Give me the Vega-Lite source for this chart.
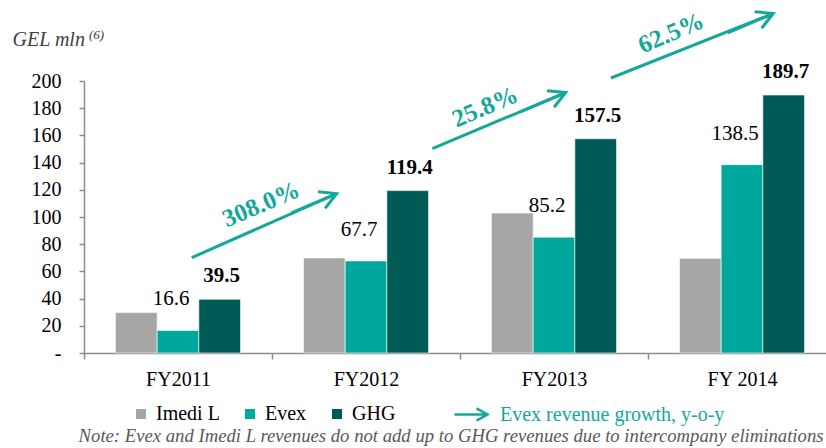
{
  "$schema": "https://vega.github.io/schema/vega-lite/v6.json",
  "width": 742,
  "height": 272,
  "autosize": {"type": "none"},
  "padding": {"left": 84, "top": 81, "right": 0, "bottom": 95},
  "background": "white",
  "title": {
    "text": "(6)",
    "anchor": "start",
    "frame": "group",
    "orient": "top",
    "offset": 0,
    "dx": 5,
    "dy": 46,
    "baseline": "alphabetic",
    "font": "Liberation Serif",
    "fontSize": 13,
    "fontStyle": "italic",
    "fontWeight": "normal",
    "color": "#404040"
  },
  "config": {
    "font": "Liberation Serif",
    "view": {"stroke": null},
    "legend": {"padding": 0},
    "axisY": {
      "labelOverlap": false,
      "labelBound": false,
      "grid": false,
      "tickSize": 5,
      "tickColor": "#8c8c8c",
      "tickWidth": 1.5,
      "domainColor": "#8c8c8c",
      "domainWidth": 1.5,
      "labelPadding": 18,
      "labelFont": "Liberation Serif",
      "labelFontSize": 20,
      "labelColor": "#000000",
      "titleAngle": 0,
      "titleAlign": "left",
      "titleBaseline": "alphabetic",
      "titleX": -72,
      "titleY": -36,
      "titleFont": "Liberation Serif",
      "titleFontStyle": "italic",
      "titleFontWeight": "normal",
      "titleFontSize": 20,
      "titleColor": "#404040"
    }
  },
  "datasets": {
    "bars": [
      {"year": "FY2011", "series": "Imedi L", "value": 29.7},
      {"year": "FY2011", "series": "Evex", "value": 16.6},
      {"year": "FY2011", "series": "GHG", "value": 39.5},
      {"year": "FY2012", "series": "Imedi L", "value": 69.9},
      {"year": "FY2012", "series": "Evex", "value": 67.7},
      {"year": "FY2012", "series": "GHG", "value": 119.4},
      {"year": "FY2013", "series": "Imedi L", "value": 102.9},
      {"year": "FY2013", "series": "Evex", "value": 85.2},
      {"year": "FY2013", "series": "GHG", "value": 157.5},
      {"year": "FY 2014", "series": "Imedi L", "value": 69.6},
      {"year": "FY 2014", "series": "Evex", "value": 138.5},
      {"year": "FY 2014", "series": "GHG", "value": 189.7}
    ],
    "arrows": [
      {"series": "Evex revenue growth, y-o-y", "label": "308.0%", "x0": 0.573, "y0": 70.1, "x1": 1.344, "y1": 117.2, "lx": 0.941, "ly": 109.3},
      {"series": "Evex revenue growth, y-o-y", "label": "25.8%", "x0": 1.853, "y0": 150.3, "x1": 2.562, "y1": 191.5, "lx": 2.133, "ly": 181.0},
      {"series": "Evex revenue growth, y-o-y", "label": "62.5%", "x0": 2.803, "y0": 202.2, "x1": 3.666, "y1": 249.6, "lx": 3.122, "ly": 235.4}
    ]
  },
  "layer": [
    {
      "data": {"name": "bars"},
      "encoding": {
        "x": {
          "field": "year",
          "type": "nominal",
          "sort": null,
          "scale": {"range": [0, 752], "paddingInner": 0, "paddingOuter": 0},
          "axis": {
            "title": "Note: Evex and Imedi L revenues do not add up to GHG revenues due to intercompany eliminations",
            "titleX": 739,
            "titleY": 88,
            "titleAlign": "right",
            "titleBaseline": "alphabetic",
            "titleFont": "Liberation Serif",
            "titleFontStyle": "italic",
            "titleFontWeight": "normal",
            "titleFontSize": 18.7,
            "titleColor": "#595959",
            "labelAngle": 0,
            "labelFont": "Liberation Serif",
            "labelFontSize": 20,
            "labelColor": "#000000",
            "labelPadding": 10,
            "tickBand": "extent",
            "tickSize": 6,
            "tickColor": "#8c8c8c",
            "tickWidth": 1.5,
            "domainColor": "#8c8c8c",
            "domainWidth": 1.5,
            "grid": false
          }
        },
        "xOffset": {
          "field": "series",
          "type": "nominal",
          "scale": {"domain": ["Imedi L", "Evex", "GHG"], "paddingInner": 0, "paddingOuter": 0.755}
        },
        "y": {
          "field": "value",
          "type": "quantitative",
          "scale": {"domain": [0, 200], "nice": false},
          "axis": {
            "title": "GEL mln",
            "values": [0, 20, 40, 60, 80, 100, 120, 140, 160, 180, 200],
            "labelExpr": "datum.value === 0 ? '-' : datum.label"
          }
        }
      },
      "layer": [
        {
          "mark": {"type": "bar", "stroke": "#ffffff", "strokeWidth": 0.6},
          "encoding": {
            "color": {
              "field": "series",
              "type": "nominal",
              "scale": {"domain": ["Imedi L", "Evex", "GHG"], "range": ["#a6a6a6", "#00a79d", "#005a55"]},
              "legend": {
                "orient": "none",
                "direction": "horizontal",
                "legendX": 47,
                "legendY": 323,
                "title": null,
                "symbolType": "square",
                "symbolSize": 100,
                "symbolStrokeWidth": 0,
                "labelFont": "Liberation Serif",
                "labelFontSize": 20,
                "labelColor": "#000000",
                "labelOffset": 5,
                "columnPadding": 20
              }
            }
          }
        },
        {
          "transform": [{"filter": "datum.series === 'Evex'"}],
          "mark": {"type": "text", "dx": -7, "dy": -25, "baseline": "alphabetic", "font": "Liberation Serif", "fontSize": 21, "color": "#000000"},
          "encoding": {"text": {"field": "value", "type": "quantitative", "format": ".1f"}}
        },
        {
          "transform": [{"filter": "datum.series === 'GHG'"}],
          "mark": {"type": "text", "dx": 2, "dy": -17, "baseline": "alphabetic", "font": "Liberation Serif", "fontSize": 21, "fontWeight": "bold", "color": "#000000"},
          "encoding": {"text": {"field": "value", "type": "quantitative", "format": ".1f"}}
        }
      ]
    },
    {
      "data": {"name": "arrows"},
      "layer": [
        {
          "mark": {"type": "rule", "color": "#14a89a", "strokeWidth": 3},
          "encoding": {
            "x": {"field": "x0", "type": "quantitative", "scale": {"domain": [0, 4], "range": [0, 752], "nice": false, "zero": false}, "axis": null},
            "x2": {"field": "x1"},
            "y": {"field": "y0", "type": "quantitative", "axis": {"title": "GEL mln", "values": [0, 20, 40, 60, 80, 100, 120, 140, 160, 180, 200], "labelExpr": "datum.value === 0 ? '-' : datum.label"}},
            "y2": {"field": "y1"}
          }
        },
        {
          "mark": {"type": "point", "filled": false, "color": "#14a89a", "strokeWidth": 3, "angle": -23, "size": 1076, "opacity": 1},
          "encoding": {
            "x": {"field": "x1", "type": "quantitative", "axis": null},
            "y": {"field": "y1", "type": "quantitative", "axis": {"title": "GEL mln", "values": [0, 20, 40, 60, 80, 100, 120, 140, 160, 180, 200], "labelExpr": "datum.value === 0 ? '-' : datum.label"}},
            "shape": {
              "field": "series",
              "type": "nominal",
              "scale": {"range": ["M-3,0L0,0M-1,-0.55L0,0L-1,0.55"]},
              "legend": {
                "orient": "none",
                "legendX": 391,
                "legendY": 321,
                "title": null,
                "symbolSize": 484,
                "symbolStrokeColor": "#14a89a",
                "symbolFillColor": "transparent",
                "symbolStrokeWidth": 2.5,
                "labelFont": "Liberation Serif",
                "labelFontSize": 20,
                "labelColor": "#14a89a",
                "labelOffset": 0,
                "labelLimit": 400
              }
            }
          }
        },
        {
          "mark": {"type": "text", "angle": -23, "baseline": "middle", "align": "center", "font": "Liberation Serif", "fontSize": 25, "fontWeight": "bold", "color": "#14a89a"},
          "encoding": {
            "x": {"field": "lx", "type": "quantitative", "axis": null},
            "y": {"field": "ly", "type": "quantitative", "axis": {"title": "GEL mln", "values": [0, 20, 40, 60, 80, 100, 120, 140, 160, 180, 200], "labelExpr": "datum.value === 0 ? '-' : datum.label"}},
            "text": {"field": "label", "type": "nominal"}
          }
        }
      ]
    }
  ],
  "resolve": {"scale": {"x": "independent"}, "axis": {"x": "independent"}}
}
